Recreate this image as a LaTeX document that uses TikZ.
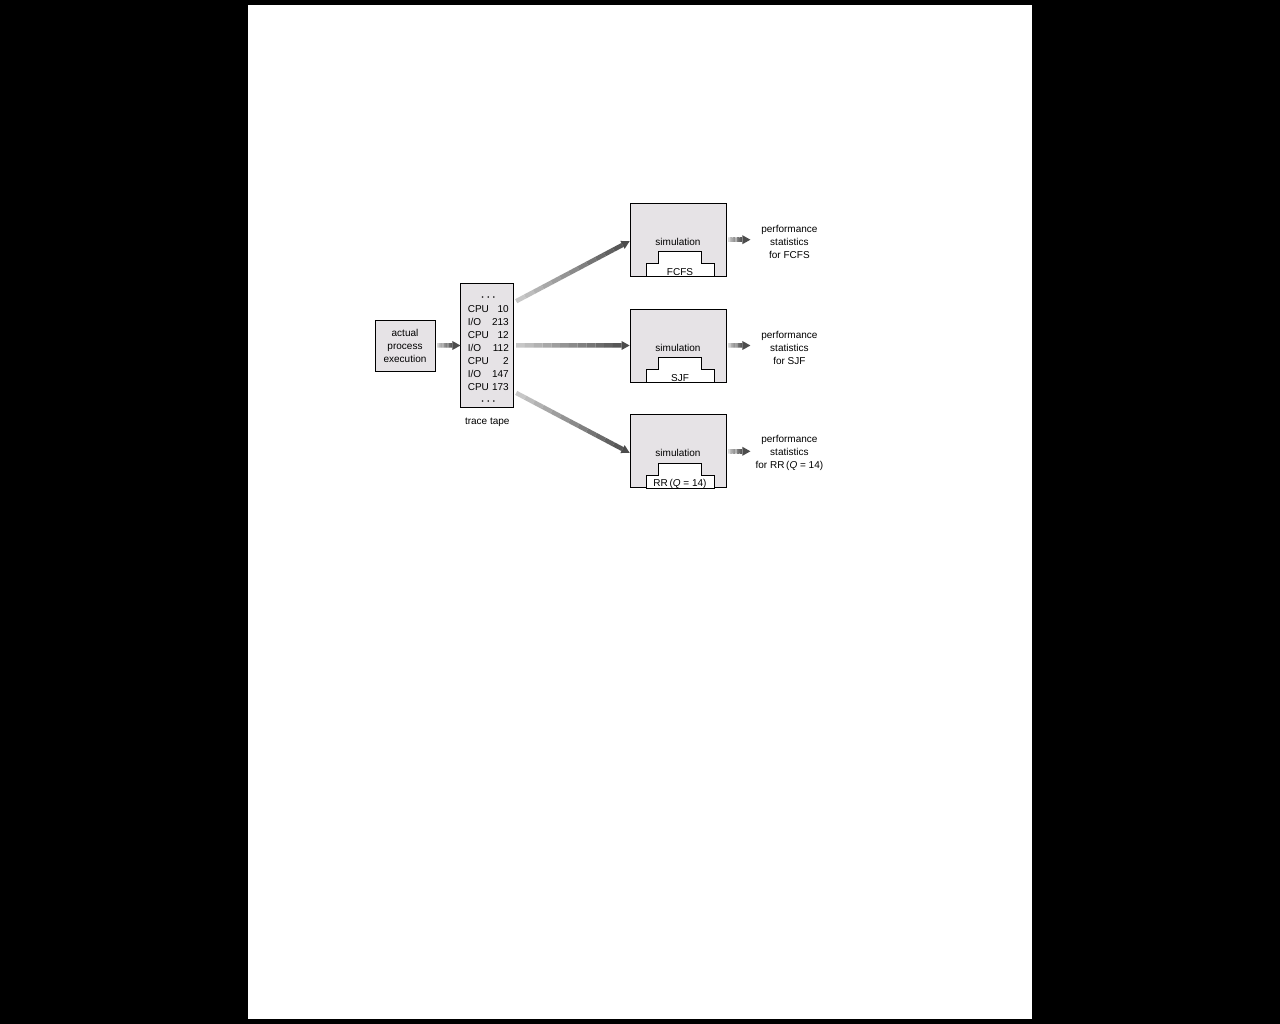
\documentclass[tikz,border=0pt]{standalone}
\usepackage{fontspec}
\setmainfont{Liberation Sans}
\usetikzlibrary{calc,positioning}
\definecolor{boxgray}{HTML}{E6E3E6}
\tikzset{
  fnt/.style = {align=center, font=\fontsize{10}{13}\selectfont},
  box/.style = {draw, fill=boxgray, line width=0.8pt, inner sep=0pt},
  lbl/.style = {fnt, inner sep=0pt, yshift=-2pt},
  simbox/.style = {box, minimum width=96pt, minimum height=73pt}
}
% shaded arrow, light at the tail, dark at the head
\newcommand\gradarrow[2]{%
  \coordinate (ga) at (#1);
  \coordinate (gb) at (#2);
  \coordinate (gh) at ($(gb)!8pt!(ga)$);
  \foreach \k [evaluate=\k as \tn using int(22+4*\k)] in {0,...,11}
    \draw[line width=4.5pt, black!\tn] ($(ga)!\k/12!(gh)$) -- ($(ga)!\k/12+1/12!(gh)$);
  \fill[black!70] (gb) -- ($(gh)!4.5pt!90:(gb)$) -- ($(gh)!4.5pt!-90:(gb)$) -- cycle;
}
\newcommand\tdots{{\fontsize{6}{13}\selectfont\textbullet\hspace{3.5pt}\textbullet\hspace{3.5pt}\textbullet}}

\begin{document}
\begin{tikzpicture}[x=1pt,y=-1pt]
  % page
  \fill[black] (0,0) rectangle (1280,1024);
  \fill[white] (248,5) rectangle (1032,1019);
  % process and trace tape
  \node[box,fnt,minimum width=60pt,minimum height=51pt] (act) at (405,345.5) {actual\\process\\execution};
  \node[box,minimum width=53pt,minimum height=124pt,right=25pt of act] (tape) {};
  \node[lbl,yshift=-1pt] (tapetxt) at ([xshift=1pt]tape.center) {%
    \begin{tabular*}{41pt}{@{}l@{\extracolsep{\fill}}r@{}}
      \multicolumn{2}{c}{\tdots}\\
      CPU & 10\\ I/O & 213\\ CPU & 12\\ I/O & 112\\
      CPU & 2\\ I/O & 147\\ CPU & 173\\
      \multicolumn{2}{c}{\tdots}
    \end{tabular*}};
  \node[lbl,below=8pt of tape] (tapelbl) {trace tape};
  \gradarrow{[xshift=2pt]act.east}{tape.west}
  % simulations
  \node[simbox] (sjf) at (678,345.5) {};
  \node[simbox,above=32pt of sjf] (fcfs) {};
  \node[simbox,below=32pt of sjf] (rr) {};
  \foreach \n/\lab in {fcfs/FCFS, sjf/SJF, rr/{RR\,(\textit{Q} = 14)}}{
    \node[lbl] (txt\n) at (\n.center) {simulation};
    \draw[line width=0.8pt,fill=white] ($(\n.south)+(-32,0)$) -- ++(0,-13) -- ++(12,0) -- ++(0,-12)
      -- ++(43,0) -- ++(0,12) -- ++(13,0) -- ++(0,13) -- cycle;
    \node[lbl] (alg\n) at ($(\n.south)+(2,-6.5)$) {\lab};
    \node[lbl] (st\n) at ($(\n.east)+(63,0)$) {performance\\statistics\\for \lab};
    \gradarrow{[xshift=2pt]\n.east}{[xshift=24pt]\n.east}
  }
  % tape to simulations
  \coordinate (tapetop) at ($(tape.north east)!0.145!(tape.south east)+(2,0)$);
  \coordinate (tapebot) at ($(tape.north east)!0.88!(tape.south east)+(2,0)$);
  \gradarrow{tapetop}{[yshift=-1.5pt]fcfs.west}
  \gradarrow{[xshift=2pt]tape.east}{sjf.west}
  \gradarrow{tapebot}{[yshift=-1.5pt]rr.west}
\end{tikzpicture}
\end{document}
